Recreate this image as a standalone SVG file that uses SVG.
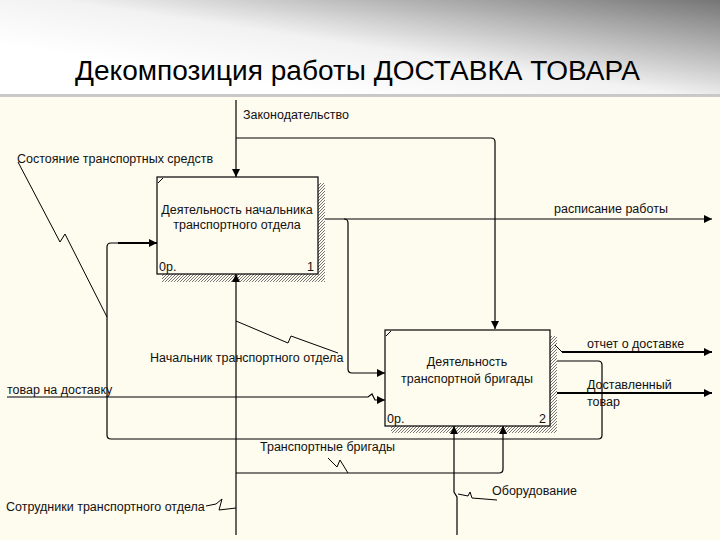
<svg xmlns="http://www.w3.org/2000/svg" width="720" height="540" viewBox="0 0 720 540">
<defs>
<linearGradient id="hdr" x1="0.2" y1="0.7" x2="1" y2="0">
<stop offset="0" stop-color="#ffffff"/>
<stop offset="0.35" stop-color="#f2f2f2"/>
<stop offset="1" stop-color="#767676"/>
</linearGradient>
<pattern id="hatch" width="3" height="3" patternUnits="userSpaceOnUse">
<rect width="3" height="3" fill="#fefbef"/>
<path d="M0,3 L3,0" stroke="#777" stroke-width="1"/>
</pattern>
<marker id="arr" viewBox="0 0 10 10" refX="10" refY="5" markerWidth="9" markerHeight="8" markerUnits="userSpaceOnUse" orient="auto">
<path d="M0,0 L10,5 L0,10 z" fill="#000"/>
</marker>
<style>
.t{font-family:"Liberation Sans",Arial,sans-serif;font-size:12.5px;fill:#111}
.c{stroke:#000;stroke-width:1.2;fill:none}
.b{stroke:#000;stroke-width:2;fill:none}
.sq{stroke:#000;stroke-width:1;fill:none}
.box{fill:#fefbef;stroke:#000;stroke-width:1.2}
.sh{fill:url(#hatch)}
</style>
</defs>
<rect x="0" y="0" width="720" height="96" fill="url(#hdr)"/>
<rect x="0" y="94" width="720" height="3" fill="#c8c8c8"/>
<rect x="0" y="97" width="720" height="443" fill="#fefbef"/>
<text x="75" y="80" font-family="'Liberation Sans',Arial,sans-serif" font-size="27" textLength="565" lengthAdjust="spacingAndGlyphs" fill="#000">Декомпозиция работы ДОСТАВКА ТОВАРА</text>

<g id="box1">
<rect class="sh" x="318" y="183" width="7" height="99"/>
<rect class="sh" x="162" y="274" width="163" height="8"/>
<rect class="box" x="157" y="177" width="161" height="97"/>
<path class="sq" d="M158,183 L163,178"/>
<text class="t" x="237" y="214" text-anchor="middle">Деятельность начальника</text>
<text class="t" x="237" y="229" text-anchor="middle">транспортного отдела</text>
<text class="t" x="159" y="271">0р.</text>
<text class="t" x="314" y="271" text-anchor="end">1</text>
</g>

<g id="box2">
<rect class="sh" x="550" y="336" width="7" height="97"/>
<rect class="sh" x="391" y="426" width="166" height="7"/>
<rect class="box" x="385" y="330" width="165" height="96"/>
<path class="sq" d="M386,336 L391,331"/>
<text class="t" x="467" y="366" text-anchor="middle">Деятельность</text>
<text class="t" x="467" y="383" text-anchor="middle">транспортной бригады</text>
<text class="t" x="387" y="423">0р.</text>
<text class="t" x="546" y="423" text-anchor="end">2</text>
</g>

<g id="connectors">
<path class="c" d="M236,100 V177" marker-end="url(#arr)"/>
<path class="c" d="M236,138 H491 Q495,138 495,142 V329" marker-end="url(#arr)"/>
<path class="sq" d="M18,162 L60,242 L65,234 L107,317"/>
<path class="c" d="M557,361 H598 Q602,361 602,365 V435 Q602,439 598,439 H111 Q107,439 107,435 V247 Q107,243 111,243 H120"/>
<path class="b" d="M118,243 H157" marker-end="url(#arr)"/>
<path class="c" d="M325,219 H712" marker-end="url(#arr)"/>
<path class="c" d="M344,219 Q348,219 348,223 V369 Q348,373 352,373 H385" marker-end="url(#arr)"/>
<path class="c" d="M7,397 H368 L372,394 L375,400 H385" marker-end="url(#arr)"/>
<path class="c" d="M236,535 V274" marker-end="url(#arr)"/>
<path class="sq" d="M236,321 L288,343 L291,336 L338,353"/>
<path class="sq" d="M206,506 L216,504 L222,499 L219,510 L236,508"/>
<path class="c" d="M236,473 H499 Q503,473 503,469 V426" marker-end="url(#arr)"/>
<path class="sq" d="M328,458 L337,467 L340,460 L348,473"/>
<path class="c" d="M457,535 V497 L454,492 V426" marker-end="url(#arr)"/>
<path class="sq" d="M458,494 L468,496 L470,492 L472,498 L497,500"/>
<path class="sq" d="M555,345 L562,352"/>
<path class="b" d="M562,352 H712" marker-end="url(#arr)"/>
<path class="b" d="M557,393 H712" marker-end="url(#arr)"/>
</g>

<g id="labels">
<text class="t" x="243" y="119">Законодательство</text>
<text class="t" x="17" y="163">Состояние транспортных средств</text>
<text class="t" x="554" y="213">расписание работы</text>
<text class="t" x="150" y="362">Начальник транспортного отдела</text>
<text class="t" x="7" y="394">товар на доставку</text>
<text class="t" x="260" y="451">Транспортные бригады</text>
<text class="t" x="6" y="511">Сотрудники транспортного отдела</text>
<text class="t" x="492" y="495">Оборудование</text>
<text class="t" x="587" y="348">отчет о доставке</text>
<text class="t" x="587" y="389">Доставленный</text>
<text class="t" x="587" y="406">товар</text>
</g>
</svg>
